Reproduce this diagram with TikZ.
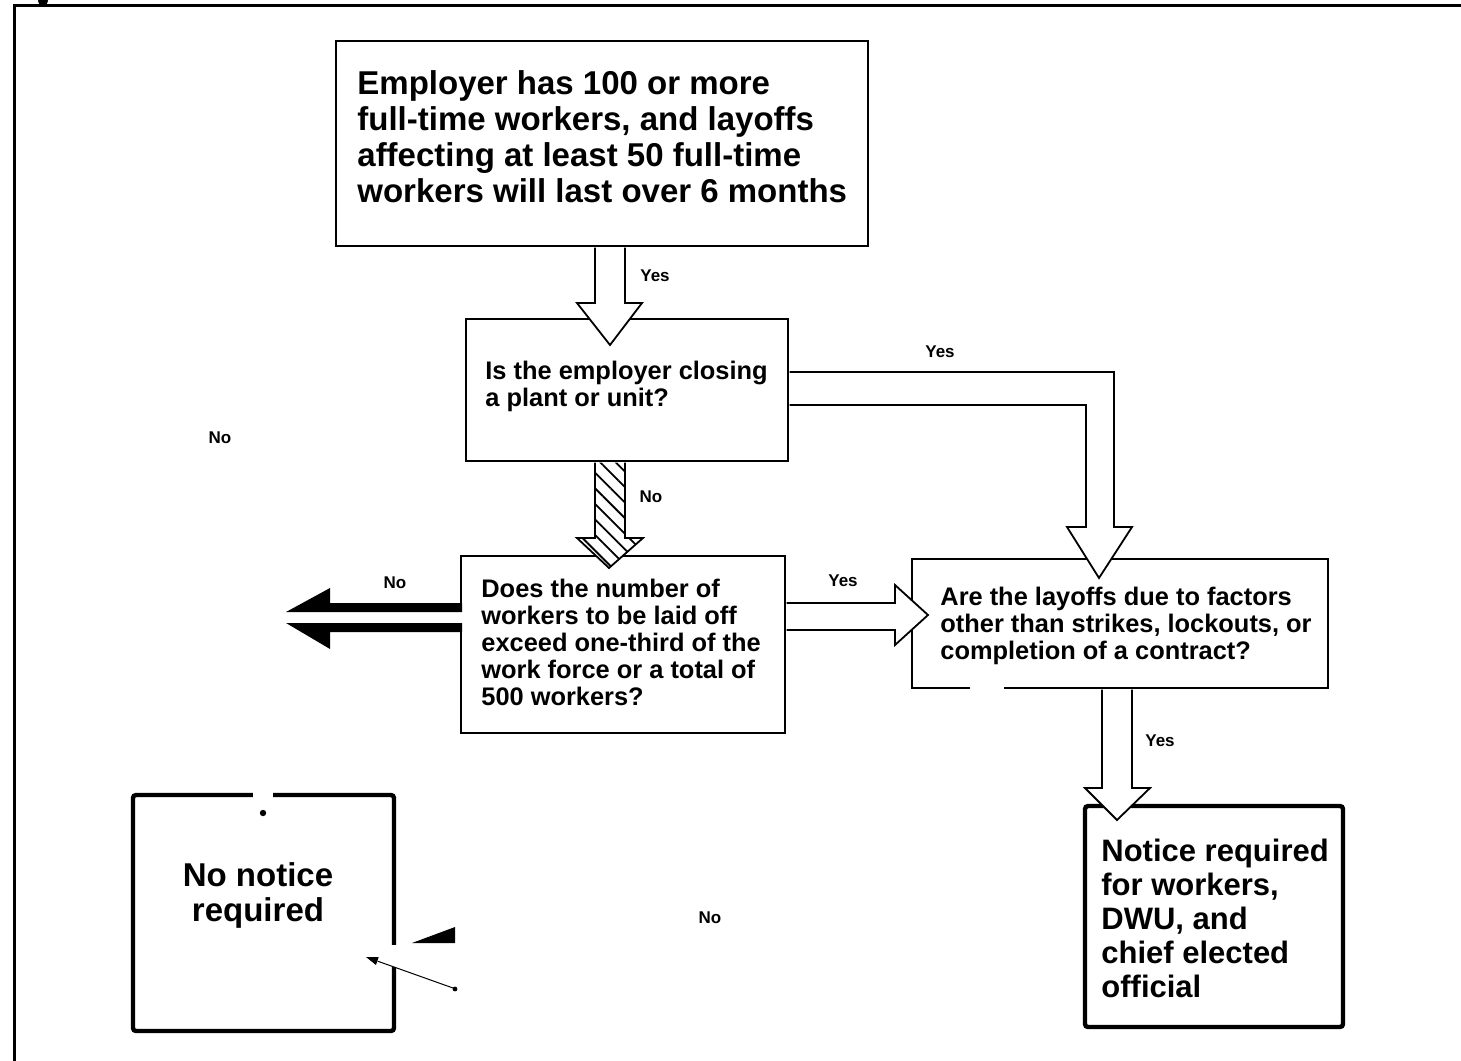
\documentclass[tikz,border=0pt]{standalone}
\usepackage{fontspec}
\setmainfont{Liberation Sans}
\usetikzlibrary{patterns.meta,arrows.meta,calc,fit}
\begin{document}
\begin{tikzpicture}[x=0.5pt,y=-0.5pt,
  box/.style={draw,line width=1pt,inner sep=0pt},
  thickbox/.style={draw,line width=2.2pt,inner sep=0pt,rounded corners=1.5pt},
  txt/.style={inner sep=0pt,anchor=north west,align=left,font=\bfseries\fontsize{12.7}{13.4}\selectfont},
  bigtxt/.style={inner sep=0pt,anchor=north west,align=left,font=\bfseries\fontsize{16.5}{18}\selectfont},
  lbl/.style={inner sep=0pt,font=\bfseries\fontsize{8.5}{10}\selectfont},
  barrow/.style={draw,line width=0.9pt,fill=white,line join=miter},
  harrow/.style={draw,line width=0.9pt,preaction={fill=white},pattern={Lines[angle=-45,distance=5.5pt,line width=0.9pt]},line join=miter},
]
\useasboundingbox (0,0) rectangle (1461,1060);

% outer frame
\draw[line width=1.5pt] (14,1064) -- (14,5) -- (1465,5);
\fill (43,1) circle (2.5pt);

% boxes
\node[box,fit={(336,41)(868,246)}] (b1) {};
\node[box,fit={(466,319)(788,461)}] (b2) {};
\node[box,fit={(461,556)(785,733)}] (b3) {};
\node[box,fit={(912,559)(1328,688)}] (b4) {};
\node[thickbox,fit={(1085,806)(1343,1027)}] (b5) {};
\node[thickbox,fit={(133,795)(394,1031)}] (b6) {};

% gaps in box borders
\fill[white] (970,684) rectangle (1004,692);
\fill[white] (253,789) rectangle (273,801);
\fill[white] (388,945) rectangle (400,967);
\fill (263,813) circle (1.6pt);

% block arrows
\draw[barrow] (595,247.5) -- (595,303) -- (577,303) -- (610,345) -- (642,303) -- (625,303) -- (625,247.5);
\draw[harrow] (595,462.5) -- (595,538) -- (577,538) -- (609,568) -- (643,538) -- (625,538) -- (625,462.5);
\draw[barrow] (789.5,372) -- (1114,372) -- (1114,527) -- (1132,527) -- (1099,578) -- (1067,527) -- (1086,527) -- (1086,405) -- (789.5,405);
\draw[barrow] (786.5,603) -- (895,603) -- (895,585) -- (928,615) -- (895,645) -- (895,630) -- (786.5,630);
\draw[barrow] (1102,689.5) -- (1102,788) -- (1085,788) -- (1117,820) -- (1150,788) -- (1132,788) -- (1132,689.5);

% black double arrow to the left
\fill[white] (456,612) rectangle (466,623);
\fill (462,603) -- (330,603) -- (330,588) -- (286,612) -- (462,612) -- cycle;
\fill (462,623) -- (286,623) -- (330,649) -- (330,632) -- (462,632) -- cycle;

% fragments near the bottom
\fill (412,943) -- (455,927) -- (455,943) -- cycle;
\coordinate (fa) at (453,988);
\coordinate (fb) at (366,957);
\draw[line width=0.5pt,dash pattern=on 40pt off 2pt on 6pt off 3pt,-{Triangle[length=6pt,width=4pt]}] (fa) -- (fb);
\fill (455,989) circle (1.2pt);

% texts
\node[bigtxt] (t1) at (357,70) {Employer has 100 or more\\full-time workers, and layoffs\\affecting at least 50 full-time\\workers will last over 6 months};
\node[txt] (t2) at (485,361) {Is the employer closing\\a plant or unit?};
\node[txt] (t3) at (481,579) {Does the number of\\workers to be laid off\\exceed one-third of the\\work force or a total of\\500 workers?};
\node[txt] (t4) at (940,587) {Are the layoffs due to factors\\other than strikes, lockouts, or\\completion of a contract?};
\node[inner sep=0pt,anchor=north west,align=left,font=\bfseries\fontsize{15.5}{17}\selectfont] (t5) at (1101,839) {Notice required\\for workers,\\DWU, and\\chief elected\\official};
\node[inner sep=0pt,align=center,font=\bfseries\fontsize{16.5}{17.5}\selectfont] (t6) at (258,895) {No notice\\required};

% labels
\node[lbl] (l1) at (655,276) {Yes};
\node[lbl] (l2) at (940,352) {Yes};
\node[lbl] (l3) at (220,438) {No};
\node[lbl] (l4) at (651,497) {No};
\node[lbl] (l5) at (395,583) {No};
\node[lbl] (l6) at (843,581) {Yes};
\node[lbl] (l7) at (1160,741) {Yes};
\node[lbl] (l8) at (710,918) {No};
\end{tikzpicture}
\end{document}
